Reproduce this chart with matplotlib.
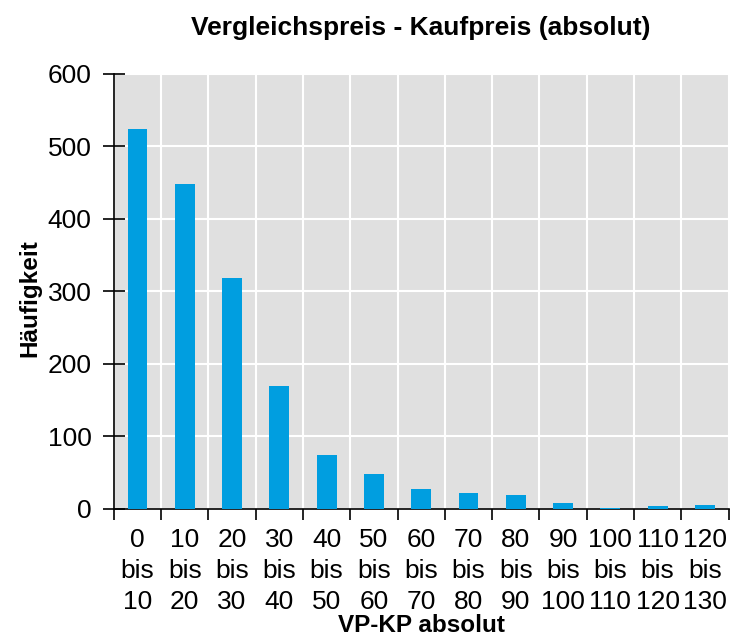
import numpy as np
import matplotlib.pyplot as plt

plt.rcParams['font.family'] = ['Liberation Sans', 'DejaVu Sans']

# Klassen und Häufigkeiten
lower = [0, 10, 20, 30, 40, 50, 60, 70, 80, 90, 100, 110, 120]
upper = [10, 20, 30, 40, 50, 60, 70, 80, 90, 100, 110, 120, 130]
counts = [524, 448, 318, 170, 74, 48, 28, 22, 19, 8, 1, 4, 5]
labels = ['%d\nbis\n%d' % (a, b) for a, b in zip(lower, upper)]

fig = plt.figure(figsize=(7.3, 6.37), dpi=100)
ax = fig.add_axes([0.156, 0.201, 0.842, 0.683])
ax.set_facecolor('#e0e0e0')

x = np.arange(len(counts))
ax.bar(x, counts, width=0.42, color='#009ee0', zorder=3)

ax.set_xlim(-0.5, len(counts) - 0.5)
ax.set_ylim(0, 600)
ax.set_yticks(range(0, 601, 100))

# Gitter an den Klassengrenzen
ax.set_xticks(np.arange(len(counts) + 1) - 0.5)
ax.set_xticklabels([])
ax.set_xticks(x, minor=True)
ax.set_xticklabels(labels, minor=True, fontsize=19, linespacing=1.35)
ax.tick_params(axis='x', which='minor', length=0, pad=14)
ax.tick_params(axis='x', which='major', direction='out', length=8, width=1.2)
ax.tick_params(axis='y', direction='inout', length=16, width=1.2, labelsize=19, pad=8)
ax.grid(True, which='major', color='white', linewidth=1.5, zorder=1)
ax.set_axisbelow(True)

for s in ['top', 'right']:
    ax.spines[s].set_visible(False)
ax.spines['left'].set_linewidth(1.2)
ax.spines['bottom'].set_linewidth(1.2)

ax.set_title('Vergleichspreis - Kaufpreis (absolut)', fontsize=19, fontweight='bold', pad=28)
ax.set_ylabel('Häufigkeit', fontsize=17.5, fontweight='bold')
ax.yaxis.set_label_coords(-0.118, 0.485)
ax.set_xlabel('VP-KP absolut', fontsize=17.5, fontweight='bold', va='center')
ax.xaxis.set_label_coords(0.5, -0.267)

plt.savefig('out.png', dpi=100)
